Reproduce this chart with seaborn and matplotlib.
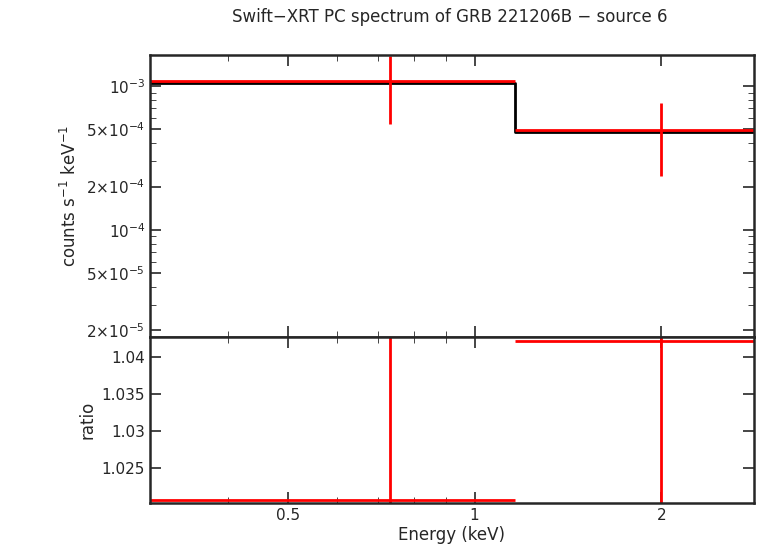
import matplotlib
matplotlib.use("Agg")
import matplotlib.pyplot as plt
import seaborn as sns
import numpy as np

sns.set_style("ticks")
edges = [0.3, 1.16, 2.82]
centers = [0.73, 2.0]
xerr_lo = [0.43, 0.84]
xerr_hi = [0.43, 0.82]
rate = [1.08e-3, 4.95e-4]
rate_err = [5.4e-4, 2.6e-4]
model = [1.05e-3, 4.8e-4]
ratio = [1.0207, 1.0422]
ratio_err = [0.03, 0.025]

fig = plt.figure(figsize=(7.58, 5.56), dpi=100)
ax1 = fig.add_axes([150/758, 1-337/556, 604/758, 282/556])
ax2 = fig.add_axes([150/758, 1-503/556, 604/758, 166/556], sharex=ax1)

ax1.step(edges, model + [model[-1]], where="post", color="black", lw=2)
ax1.errorbar(centers, rate, xerr=[xerr_lo, xerr_hi], yerr=rate_err, fmt="none", ecolor="red", elinewidth=2)
ax2.errorbar(centers, ratio, xerr=[xerr_lo, xerr_hi], yerr=ratio_err, fmt="none", ecolor="red", elinewidth=2)

for ax in (ax1, ax2):
    ax.set_xscale("log")
    ax.set_xlim(0.3, 2.82)
    ax.tick_params(which="both", direction="in", top=True, right=True, labelsize=11)
    ax.tick_params(which="major", length=8, width=1.2)
    ax.tick_params(which="minor", length=4)
    for s in ax.spines.values():
        s.set_linewidth(1.8)
ax1.set_yscale("log")
ax1.set_ylim(1.8e-5, 1.64e-3)
yt = [2e-5, 5e-5, 1e-4, 2e-4, 5e-4, 1e-3]
ax1.set_yticks(yt)
ax1.set_yticklabels([r"2$\times$10$^{-5}$", r"5$\times$10$^{-5}$", r"10$^{-4}$", r"2$\times$10$^{-4}$", r"5$\times$10$^{-4}$", r"10$^{-3}$"])
ax1.minorticks_on()
ax1.tick_params(axis="x", labelbottom=False)
ax1.set_ylabel(r"counts s$^{-1}$ keV$^{-1}$", fontsize=12)
ax2.set_ylim(1.0203, 1.0427)
ax2.set_yticks([1.025, 1.03, 1.035, 1.04])
ax2.set_yticklabels(["1.025", "1.03", "1.035", "1.04"])
ax2.set_xticks([0.5, 1, 2])
ax2.set_xticklabels(["0.5", "1", "2"])
ax2.xaxis.set_minor_formatter(matplotlib.ticker.NullFormatter())
ax2.set_ylabel("ratio", fontsize=12)
ax2.set_xlabel("Energy (keV)", fontsize=12, labelpad=2)
fig.suptitle("Swift\u2212XRT PC spectrum of GRB 221206B \u2212 source 6", x=450/758, y=0.985, fontsize=12)
fig.savefig("out.png", dpi=100)
